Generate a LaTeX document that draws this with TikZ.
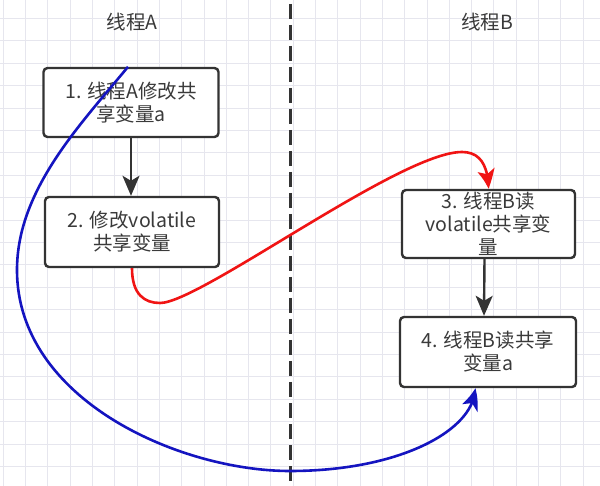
\documentclass[tikz,border=0pt]{standalone}
\usepackage{fontspec}
\setmainfont{Noto Sans CJK SC}
\usetikzlibrary{arrows.meta,bending}
\definecolor{gridc}{HTML}{E6E6EE}
\definecolor{ink}{HTML}{333333}
\definecolor{txt}{HTML}{3A3A3A}
\definecolor{redc}{HTML}{F01414}
\definecolor{bluec}{HTML}{1414C0}
\tikzset{
  stepbox/.style={draw=ink, line width=2.4pt, rounded corners=4pt, fill=white,
    text=txt, align=center, font=\fontsize{19.5}{23}\selectfont, inner sep=0pt},
  lane/.style={text=txt, font=\fontsize{19.5}{23}\selectfont},
  conn/.style={draw=ink, line width=2.4pt, -{Stealth[length=20pt,width=17pt,inset=5pt]}},
  redconn/.style={draw=redc, line width=2.6pt, -{Stealth[length=20pt,width=17pt,inset=5pt,bend]}},
  blueconn/.style={draw=bluec, line width=2.6pt, -{Stealth[length=20pt,width=17pt,inset=5pt,bend]}},
  divider/.style={draw=ink, line width=3pt, dash pattern=on 15pt off 6pt},
}
\begin{document}
\begin{tikzpicture}[x=1pt,y=-1pt]
\useasboundingbox (0,0) rectangle (600,486);
\fill[white] (0,0) rectangle (600,486);
% grid
\foreach \i in {0,...,26} {
  \draw[gridc, line width=1pt] ({3.3+22.3*\i},0) -- ({3.3+22.3*\i},486);
}
\foreach \j in {0,...,21} {
  \draw[gridc, line width=1pt] (0,{18.5+22.4*\j}) -- (600,{18.5+22.4*\j});
}
% lanes
\node[lane] (la) at (132,22) {线程A};
\node[lane] (lb) at (487,22) {线程B};
\coordinate (dtop) at (290,4);
\coordinate (dbot) at (290,486);
\draw[divider] (dtop) -- (dbot);
% boxes
\node[stepbox, minimum width=175pt, minimum height=69pt] (b1) at (131,102.5) {1. 线程A修改共\\享变量a};
\node[stepbox, minimum width=174pt, minimum height=70pt] (b2) at (132,232) {2. 修改volatile\\共享变量};
\node[stepbox, minimum width=173pt, minimum height=68pt] (b3) at (488.5,224) {3. 线程B读\\volatile共享变\\量};
\node[stepbox, minimum width=176pt, minimum height=70pt] (b4) at (488,352) {4. 线程B读共享\\变量a};
% straight connectors
\draw[conn] (b1.south) -- (b2.north -| b1.south);
\draw[conn] ([xshift=-4pt]b3.south) -- ([xshift=-4pt]b4.north);
% red curve
\draw[redconn] (b2.south) .. controls (132,295) and (145,303) .. (160,303)
  .. controls (200,303) and (400,152) .. (462,152)
  .. controls (480,152) and (488,165) .. (b3.north);
% blue curve
\draw[blueconn] ([xshift=-3pt]b1.north) .. controls (80,125) and (17,190) .. (17,270)
  .. controls (17,400) and (180,471) .. (290,471)
  .. controls (400,471) and (475,430) .. ([xshift=-13pt]b4.south);
\end{tikzpicture}
\end{document}
